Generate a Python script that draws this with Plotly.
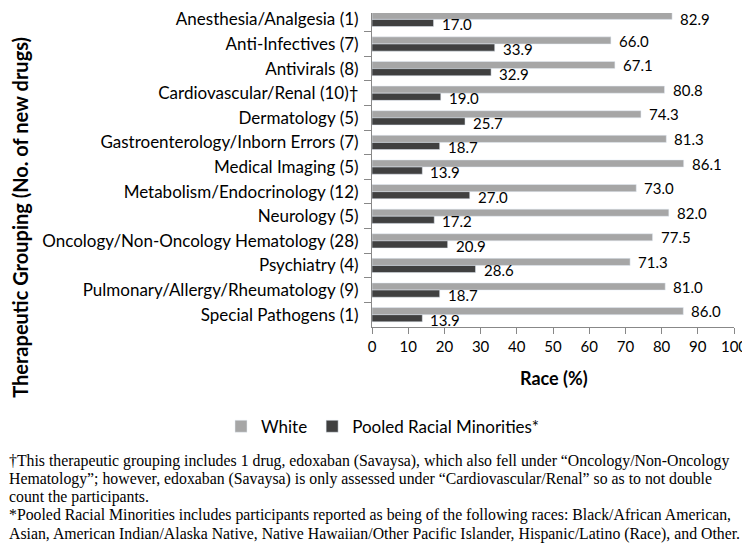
import plotly.graph_objects as go

# categories, top to bottom
groups = [
    "Anesthesia/Analgesia (1)",
    "Anti-Infectives (7)",
    "Antivirals (8)",
    "Cardiovascular/Renal (10)†",
    "Dermatology (5)",
    "Gastroenterology/Inborn Errors (7)",
    "Medical Imaging (5)",
    "Metabolism/Endocrinology (12)",
    "Neurology (5)",
    "Oncology/Non-Oncology Hematology (28)",
    "Psychiatry (4)",
    "Pulmonary/Allergy/Rheumatology (9)",
    "Special Pathogens (1)",
]
white = [82.9, 66.0, 67.1, 80.8, 74.3, 81.3, 86.1, 73.0, 82.0, 77.5, 71.3, 81.0, 86.0]
minorities = [17.0, 33.9, 32.9, 19.0, 25.7, 18.7, 13.9, 27.0, 17.2, 20.9, 28.6, 18.7, 13.9]
x_ticks = list(range(0, 101, 10))

footnote_lines = [
    "†This therapeutic grouping includes 1 drug, edoxaban (Savaysa), which also fell under “Oncology/Non-Oncology",
    "Hematology”; however, edoxaban (Savaysa) is only assessed under “Cardiovascular/Renal” so as to not double",
    "count the participants.",
    "*Pooled Racial Minorities includes participants reported as being of the following races: Black/African American,",
    "Asian, American Indian/Alaska Native, Native Hawaiian/Other Pacific Islander, Hispanic/Latino (Race), and Other.",
]

FONT = "Lato"
OFF = 8  # page body margin pushes the figure right/down
W, H = 750 - OFF, 546 - OFF
L, R, T, B = 372 - OFF, 16, 0, 546 - 327
pw, ph = W - L - R, H - T - B


# positions below are screenshot pixels
def px_x(p):
    return (p - OFF - L) / pw


def px_y(p):
    return (H - B - (p - OFF)) / ph


row = 25.0  # px per category
top_cat = -0.5 + (OFF - 2) / row

fig = go.Figure()
fig.add_trace(go.Bar(y=groups, x=white, name="White", orientation="h",
                     marker=dict(color="#a6a6a6")))
fig.add_trace(go.Bar(y=groups, x=minorities, name="Pooled Racial Minorities*", orientation="h",
                     marker=dict(color="#404040")))

# value labels (top one nudged down so the page edge doesn't cut it)
for vals, shift in [(white, 3.5), (minorities, -5.0)]:
    for i, (g, v) in enumerate(zip(groups, vals)):
        s = min(shift, 0.5) if i == 0 else shift
        fig.add_annotation(x=v, y=g, xref="x", yref="y", text=f"{v:.1f}", showarrow=False,
                           xanchor="left", xshift=6, yshift=s,
                           font=dict(family=FONT, size=15, color="black"))

fig.add_annotation(x=px_x(20), y=px_y(216), xref="paper", yref="paper", showarrow=False,
                   xanchor="center", yanchor="middle",
                   text="<b>Therapeutic Grouping (No. of new drugs)</b>", textangle=-90,
                   font=dict(family=FONT, size=20, color="black"))
fig.add_annotation(x=px_x(554), y=px_y(379), xref="paper", yref="paper", showarrow=False,
                   xanchor="center", yanchor="middle",
                   text="<b>Race (%)</b>", font=dict(family=FONT, size=18, color="black"))

# footnotes, one line each
for i, line in enumerate(footnote_lines):
    fig.add_annotation(x=px_x(OFF - 1), y=px_y(463 + 18.5 * i), xref="paper", yref="paper",
                       showarrow=False, xanchor="left", yanchor="middle", text=line,
                       font=dict(family="Liberation Serif", size=15.8, color="black"))

fig.update_layout(
    width=W, height=H,
    margin=dict(l=L, r=R, t=T, b=B),
    barmode="group", bargap=0.42, bargroupgap=0,
    plot_bgcolor="white", paper_bgcolor="white",
    font=dict(family=FONT, size=17, color="black"),
    showlegend=True,
    legend=dict(orientation="h", x=px_x(221), y=px_y(410), xanchor="left", yanchor="top",
                font=dict(family=FONT, size=17), traceorder="normal"),
    xaxis=dict(range=[0, 100], tickvals=x_ticks, showgrid=False, zeroline=False,
               showline=True, linecolor="#888888", ticks="outside", ticklen=6,
               tickcolor="#888888", tickfont=dict(size=15), ticklabeloverflow="allow"),
    yaxis=dict(range=[12.5, top_cat], showgrid=False, showline=True, linecolor="#888888",
               ticks="outside", ticklen=7, tickcolor="#888888", tickson="boundaries",
               ticklabelstandoff=9, tickfont=dict(size=17)),
)

fig.write_html("out.html")
